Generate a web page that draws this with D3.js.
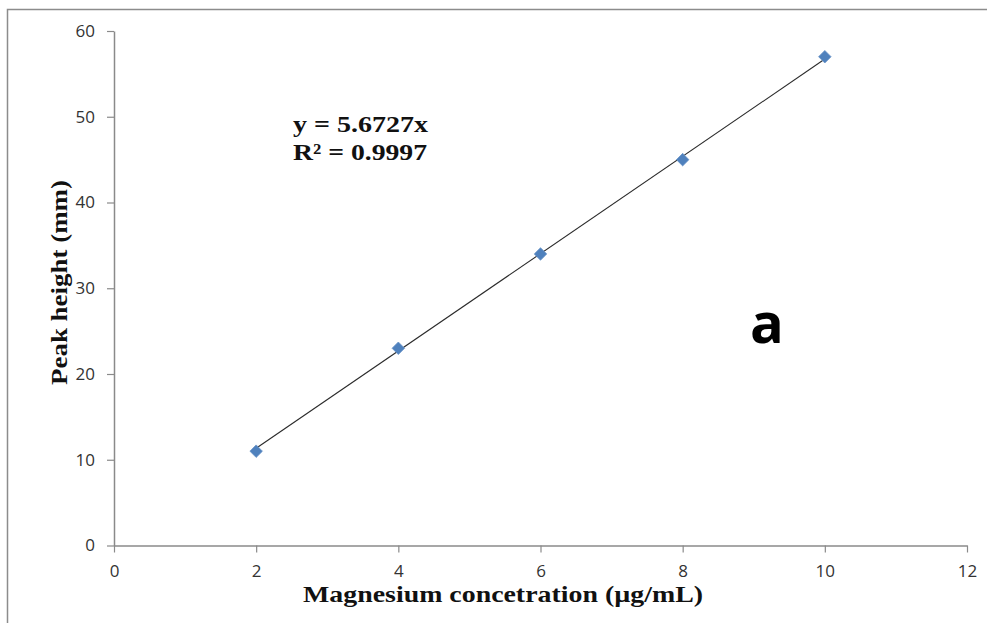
<!DOCTYPE html>
<html>
<head>
<meta charset="utf-8">
<script src="https://cdn.jsdelivr.net/npm/d3@7"></script>
<style>
  html, body { margin: 0; padding: 0; background: #fff; }
  svg { display: block; }
</style>
</head>
<body>
<svg id="chart" width="987" height="623"></svg>
<script>
// Calibration data: magnesium concentration vs. peak height
const concentrations = [2, 4, 6, 8, 10];
const peakHeights = [11, 23, 34, 45, 57];
const xTicks = [0, 2, 4, 6, 8, 10, 12];
const yTicks = [0, 10, 20, 30, 40, 50, 60];
const slope = 5.6727;
const equationLines = ["y = 5.6727x", "R\u00b2 = 0.9997"];

const svg = d3.select("#chart");

// Outer chart frame
svg.append("rect")
  .attr("x", 7.5).attr("y", 9.5)
  .attr("width", 1000).attr("height", 700)
  .attr("fill", "#fff").attr("stroke", "#8c8c8c").attr("stroke-width", 1.5);

const x = d3.scaleLinear().domain([0, 12]).range([114, 967]);
const y = d3.scaleLinear().domain([0, 60]).range([545.5, 31]);

const axisColor = "#8a8a8a";
const tickFont = "'Open Sans', 'Liberation Sans', sans-serif";
const serif = "'Liberation Serif', 'Times New Roman', serif";

// X axis
const gx = svg.append("g")
  .attr("transform", `translate(0,${y(0)})`)
  .call(d3.axisBottom(x).tickValues(xTicks).tickSize(7).tickPadding(12).tickSizeOuter(0));
// Y axis
const gy = svg.append("g")
  .attr("transform", `translate(${x(0)},0)`)
  .call(d3.axisLeft(y).tickValues(yTicks).tickSize(7).tickPadding(12).tickSizeOuter(0));

[gx, gy].forEach(g => {
  g.attr("font-size", null).attr("font-family", null);
  g.select(".domain").attr("stroke", axisColor).attr("stroke-width", 1.5);
  g.selectAll(".tick line").attr("stroke", axisColor).attr("stroke-width", 1.2);
  g.selectAll(".tick text")
    .attr("fill", "#333")
    .attr("font-family", tickFont)
    .attr("font-size", 17);
});

// Linear trendline through the origin, drawn across the data range
const xr = d3.extent(concentrations);
svg.append("line")
  .attr("x1", x(xr[0])).attr("y1", y(slope * xr[0]))
  .attr("x2", x(xr[1])).attr("y2", y(slope * xr[1]))
  .attr("stroke", "#2b2b2b").attr("stroke-width", 1.1);

// Diamond markers
const diamond = d3.symbol().type(d3.symbolDiamond2).size(100);
svg.append("g").selectAll("path")
  .data(concentrations.map((c, i) => [c, peakHeights[i]]))
  .join("path")
  .attr("d", diamond)
  .attr("transform", d => `translate(${x(d[0])},${y(d[1])})`)
  .attr("fill", "#4f81bd")
  .attr("stroke", "#6a94c8").attr("stroke-width", 0.8);

// Regression equation
const eqY = [132, 160];
const eqW = [135, 134];
equationLines.forEach((t, i) => {
  svg.append("text")
    .attr("x", 293).attr("y", eqY[i])
    .attr("textLength", eqW[i]).attr("lengthAdjust", "spacingAndGlyphs")
    .attr("font-family", serif)
    .attr("font-weight", "bold")
    .attr("font-size", 23)
    .attr("fill", "#111")
    .text(t);
});

// Panel label
svg.append("text")
  .attr("x", 767).attr("y", 343)
  .attr("text-anchor", "middle")
  .attr("font-family", "'Open Sans', 'Liberation Sans', sans-serif")
  .attr("font-weight", "bold")
  .attr("font-size", 56)
  .attr("fill", "#000")
  .text("a");

// Axis titles
svg.append("text")
  .attr("x", 303).attr("y", 602)
  .attr("textLength", 400).attr("lengthAdjust", "spacingAndGlyphs")
  .attr("font-family", serif)
  .attr("font-weight", "bold")
  .attr("font-size", 24)
  .attr("fill", "#111")
  .text("Magnesium  concetration (\u00b5g/mL)");

svg.append("text")
  .attr("transform", "translate(67,385) rotate(-90)")
  .attr("textLength", 205).attr("lengthAdjust", "spacingAndGlyphs")
  .attr("font-family", serif)
  .attr("font-weight", "bold")
  .attr("font-size", 24)
  .attr("fill", "#111")
  .text("Peak height (mm)");
</script>
</body>
</html>
